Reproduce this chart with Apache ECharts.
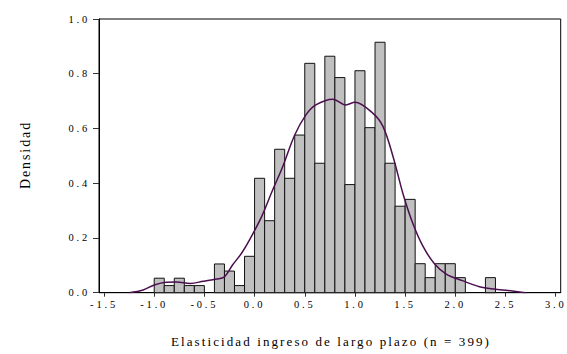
<!DOCTYPE html>
<html>
<head>
<meta charset="utf-8">
<title>Elasticidad ingreso de largo plazo</title>
<script src="https://cdn.jsdelivr.net/npm/echarts@6/dist/echarts.min.js"></script>
<style>
  html, body { margin: 0; padding: 0; background: #fff; }
  #chart { width: 567px; height: 354px; }
  /* widen the serif lettering a little */
  #chart text { font-family: "Liberation Serif", "Times New Roman", serif !important; }
  #chart text[style*="10.5px"] { letter-spacing: 2.8px; }
  #chart text[style*="13px"] { letter-spacing: 2.1px; }
  #chart text[style*="14px"] { letter-spacing: 1.9px; }
</style>
</head>
<body>
<div id="chart"></div>
<script>
// Histogram bins (left edge, width 0.1) and their densities
const binStart = [-1.0, -0.9, -0.8, -0.7, -0.6, -0.5, -0.4, -0.3, -0.2, -0.1,
                   0.0,  0.1,  0.2,  0.3,  0.4,  0.5,  0.6,  0.7,  0.8,  0.9,
                   1.0,  1.1,  1.2,  1.3,  1.4,  1.5,  1.6,  1.7,  1.8,  1.9,
                   2.0,  2.1,  2.2,  2.3];
const density = [0.053, 0.026, 0.053, 0.026, 0.026, 0, 0.105, 0.079, 0.026, 0.133,
                 0.418, 0.263, 0.524, 0.418, 0.576, 0.838, 0.473, 0.864, 0.786, 0.395,
                 0.811, 0.603, 0.915, 0.473, 0.316, 0.341, 0.106, 0.055, 0.106, 0.106,
                 0.055, 0, 0, 0.055];
const binWidth = 0.1;

// Kernel density estimate
const kdeX = [-1.25, -1.11, -1.0, -0.88, -0.78, -0.64, -0.51, -0.38, -0.30, -0.22,
              -0.13, -0.05, 0.07, 0.18, 0.28, 0.40, 0.51, 0.61, 0.78, 0.91,
               1.0, 1.18, 1.28, 1.38, 1.48, 1.58, 1.68, 1.79, 1.91, 2.07,
               2.24, 2.40, 2.57, 2.70];
const kdeY = [0, 0.010, 0.028, 0.038, 0.039, 0.034, 0.042, 0.050, 0.058, 0.101,
              0.144, 0.193, 0.278, 0.375, 0.460, 0.576, 0.649, 0.686, 0.707, 0.686,
              0.696, 0.655, 0.607, 0.497, 0.360, 0.250, 0.168, 0.107, 0.068, 0.044,
              0.022, 0.013, 0.006, 0];

// Axis ticks
const xTicks = [-1.5, -1.0, -0.5, 0.0, 0.5, 1.0, 1.5, 2.0, 2.5, 3.0];
const xTitle = 'Elasticidad ingreso de largo plazo (n = 399)';
const yTitle = 'Densidad';

const serif = 'Liberation Serif, serif';

const bars = [];
binStart.forEach((x0, i) => {
  if (density[i] > 0) bars.push([x0, x0 + binWidth, density[i]]);
});

const chart = echarts.init(document.getElementById('chart'), null, { renderer: 'svg' });

chart.setOption({
  animation: false,
  backgroundColor: '#ffffff',
  grid: {
    left: 99, top: 19, width: 461.7, height: 273.7,
    show: true, borderColor: '#000', borderWidth: 1, backgroundColor: 'transparent'
  },
  xAxis: {
    type: 'value',
    min: -1.55, max: 3.05,
    splitLine: { show: false },
    axisLine: { show: true, onZero: false, lineStyle: { color: '#000', width: 1 } },
    axisTick: { show: true, inside: false, length: 4, customValues: xTicks,
                lineStyle: { color: '#333', width: 1 } },
    axisLabel: {
      customValues: xTicks, margin: 6,
      color: '#000', fontFamily: serif, fontSize: 10.5,
      formatter: v => v.toFixed(1)
    }
  },
  yAxis: {
    type: 'value',
    min: 0, max: 1, interval: 0.2,
    splitLine: { show: false },
    axisLine: { show: true, onZero: false, lineStyle: { color: '#000', width: 1 } },
    axisTick: { show: true, inside: false, length: 6, lineStyle: { color: '#333', width: 1 } },
    axisLabel: {
      margin: 9, color: '#000', fontFamily: serif, fontSize: 10.5,
      formatter: v => v.toFixed(1)
    }
  },
  graphic: [
    {
      type: 'text', x: 331, y: 341,
      style: { text: xTitle, fill: '#000', font: '13px ' + serif,
               textAlign: 'center', textVerticalAlign: 'middle' }
    },
    {
      type: 'text', x: 25, y: 155, rotation: Math.PI / 2,
      style: { text: yTitle, fill: '#000', font: '14px ' + serif,
               textAlign: 'center', textVerticalAlign: 'middle' }
    }
  ],
  series: [
    {
      type: 'custom',
      data: bars,
      encode: { x: [0, 1], y: 2 },
      renderItem: (params, api) => {
        const p0 = api.coord([api.value(0), 0]);
        const p1 = api.coord([api.value(1), api.value(2)]);
        return {
          type: 'rect',
          shape: { x: p0[0], y: p1[1], width: p1[0] - p0[0], height: p0[1] - p1[1] },
          style: { fill: '#c0c0c0', stroke: '#111', lineWidth: 1 }
        };
      },
      z: 2
    },
    {
      type: 'line',
      data: kdeX.map((x, i) => [x, kdeY[i]]),
      smooth: 0.35,
      showSymbol: false,
      symbol: 'none',
      lineStyle: { color: '#4b0f50', width: 1.5 },
      z: 3
    }
  ]
});
</script>
</body>
</html>
